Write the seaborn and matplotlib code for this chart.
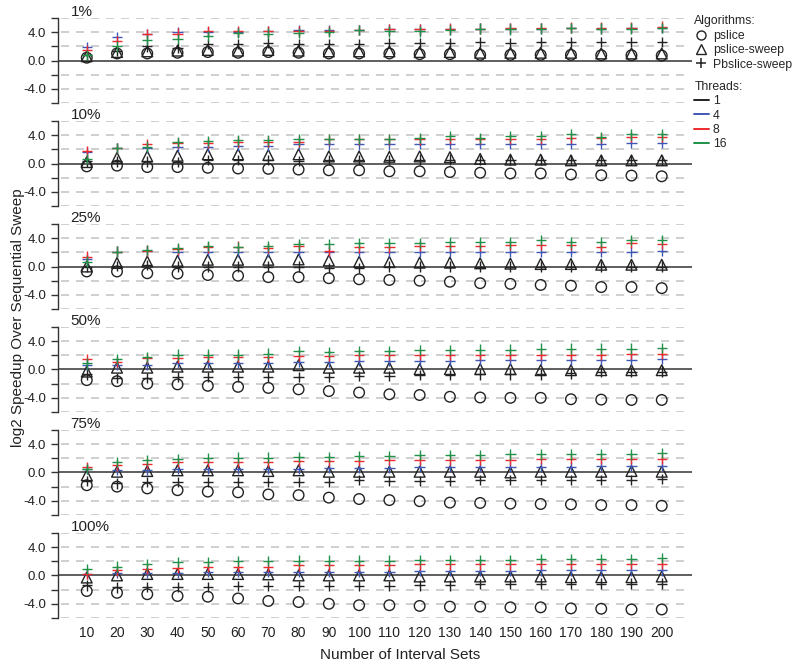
import numpy as np
import pandas as pd
import seaborn as sns
import matplotlib.pyplot as plt
from matplotlib.lines import Line2D

sns.set_style('white')
plt.rcParams['font.family'] = ['Liberation Sans', 'DejaVu Sans']
plt.rcParams['lines.scale_dashes'] = False

# x values and panels
interval_sets = list(range(10, 201, 10))
panels = ['1%', '10%', '25%', '50%', '75%', '100%']
threads = ['1', '4', '8', '16']
thread_colors = {'1': '#222222', '4': '#3f57b5', '8': '#ee2a2f', '16': '#1f9148'}

# pslice (circles), one row per panel
pslice = [
    [0.4, 1.0, 1.0, 1.1, 1.2, 1.1, 1.2, 1.1, 1.0, 1.0, 1.0, 0.9, 0.9, 0.8, 0.8, 0.8, 0.8, 0.75, 0.75, 0.7],
    [-0.4, -0.3, -0.5, -0.5, -0.6, -0.7, -0.75, -0.85, -0.95, -0.95, -1.1, -1.1, -1.2, -1.3, -1.4, -1.4, -1.55, -1.65, -1.7, -1.8],
    [-0.7, -0.7, -0.95, -1.0, -1.2, -1.3, -1.5, -1.5, -1.65, -1.8, -1.9, -2.0, -2.15, -2.35, -2.45, -2.6, -2.7, -2.9, -2.9, -3.05],
    [-1.5, -1.65, -2.0, -2.1, -2.3, -2.45, -2.6, -2.8, -3.05, -3.25, -3.5, -3.6, -3.85, -3.95, -4.0, -4.0, -4.2, -4.25, -4.3, -4.3],
    [-1.8, -2.0, -2.25, -2.5, -2.7, -2.8, -3.1, -3.2, -3.55, -3.75, -3.9, -4.05, -4.25, -4.3, -4.4, -4.45, -4.5, -4.6, -4.6, -4.7],
    [-2.2, -2.45, -2.65, -2.9, -3.0, -3.25, -3.6, -3.75, -4.0, -4.2, -4.2, -4.3, -4.4, -4.4, -4.5, -4.5, -4.65, -4.7, -4.8, -4.8],
]

# pslice-sweep (triangles)
pslice_sweep = [
    [0.6, 1.2, 1.3, 1.4, 1.5, 1.4, 1.5, 1.4, 1.3, 1.3, 1.3, 1.2, 1.2, 1.1, 1.1, 1.1, 1.1, 1.0, 1.0, 1.0],
    [0.2, 0.8, 1.0, 1.1, 1.3, 1.3, 1.2, 1.3, 1.0, 1.0, 0.95, 1.0, 0.9, 0.65, 0.55, 0.55, 0.45, 0.45, 0.45, 0.45],
    [0.0, 0.5, 0.7, 0.8, 0.95, 0.95, 0.95, 1.0, 0.85, 0.65, 0.65, 0.55, 0.55, 0.45, 0.4, 0.35, 0.35, 0.25, 0.25, 0.25],
    [-0.3, 0.25, 0.25, 0.4, 0.4, 0.4, 0.4, 0.6, 0.25, 0.25, 0.25, 0.05, 0.05, 0.05, 0.05, -0.1, -0.1, -0.1, -0.1, -0.1],
    [-0.4, 0.1, 0.2, 0.3, 0.3, 0.3, 0.2, 0.3, 0.1, 0.1, 0.1, 0.1, 0.1, 0.1, 0.0, 0.1, 0.1, 0.1, 0.2, 0.1],
    [-0.3, 0.0, 0.2, 0.2, 0.2, 0.2, 0.15, 0.0, 0.0, 0.0, 0.0, -0.15, -0.15, -0.15, -0.15, -0.15, -0.25, -0.25, -0.25, -0.15],
]

# Pbslice-sweep (plus) by thread count
pb_t1 = [
    [0.8, 1.3, 2.0, 1.8, 2.3, 2.3, 2.5, 2.3, 2.3, 2.3, 2.5, 2.5, 2.5, 2.6, 2.5, 2.6, 2.6, 2.6, 2.6, 2.6],
    [0.3, 0.3, 0.3, 0.2, 0.5, 0.5, 0.45, 0.35, 0.5, 0.5, 0.5, 0.55, 0.55, 0.5, 0.5, 0.5, 0.5, 0.5, 0.5, 0.5],
    [0.0, 0.1, 0.2, 0.0, 0.0, 0.0, 0.0, 0.0, -0.2, -0.2, 0.0, 0.0, 0.0, 0.0, 0.0, 0.0, 0.0, 0.0, 0.0, 0.0],
    [-0.7, -1.25, -1.2, -1.05, -1.05, -1.05, -1.05, -1.05, -1.05, -0.9, -0.9, -0.8, -0.8, -0.7, -0.7, -0.7, -0.55, -0.4, -0.4, -0.3],
    [-1.2, -1.55, -1.3, -1.3, -1.3, -1.3, -1.3, -1.3, -1.3, -1.1, -1.2, -1.2, -1.2, -1.1, -1.1, -1.1, -1.1, -1.1, -1.1, -0.95],
    [-1.4, -1.7, -1.6, -1.6, -1.6, -1.5, -1.5, -1.5, -1.5, -1.5, -1.5, -1.4, -1.4, -1.25, -1.25, -1.15, -1.15, -1.15, -1.15, -1.15],
]
pb_t4 = [
    [1.9, 3.3, 3.7, 4.0, 4.0, 4.05, 4.1, 4.3, 4.3, 4.3, 4.4, 4.4, 4.4, 4.5, 4.5, 4.5, 4.6, 4.5, 4.6, 4.6],
    [1.6, 2.2, 2.2, 2.4, 2.4, 2.5, 2.5, 2.7, 2.7, 2.7, 2.7, 2.8, 2.8, 2.8, 2.8, 2.8, 2.8, 2.8, 2.9, 2.9],
    [1.0, 2.1, 2.2, 2.0, 2.0, 2.0, 2.0, 2.1, 2.0, 2.0, 2.0, 2.1, 2.1, 2.1, 2.1, 2.1, 2.1, 2.1, 2.1, 2.2],
    [0.7, 0.7, 0.7, 0.95, 0.95, 0.95, 0.95, 1.1, 1.1, 1.2, 1.2, 1.2, 1.2, 1.3, 1.3, 1.3, 1.3, 1.4, 1.4, 1.45],
    [0.45, 0.3, 0.3, 0.45, 0.45, 0.55, 0.55, 0.55, 0.65, 0.65, 0.65, 0.8, 0.8, 0.8, 0.8, 0.8, 0.8, 0.95, 0.95, 0.95],
    [0.2, 0.3, 0.3, 0.35, 0.45, 0.45, 0.45, 0.45, 0.45, 0.45, 0.45, 0.6, 0.6, 0.6, 0.6, 0.7, 0.7, 0.7, 0.7, 0.7],
]
pb_t8 = [
    [1.5, 2.7, 3.7, 3.8, 4.1, 4.1, 4.1, 4.1, 4.2, 4.3, 4.4, 4.4, 4.5, 4.5, 4.6, 4.6, 4.65, 4.65, 4.65, 4.8],
    [1.7, 2.2, 2.7, 2.9, 2.9, 3.1, 3.1, 3.1, 3.4, 3.4, 3.4, 3.4, 3.5, 3.5, 3.5, 3.5, 3.6, 3.6, 3.75, 3.75],
    [1.4, 2.1, 2.25, 2.4, 2.7, 2.8, 2.6, 2.9, 2.25, 2.7, 2.7, 2.9, 2.9, 2.9, 3.05, 3.05, 3.05, 2.8, 3.3, 3.2],
    [1.45, 1.1, 1.65, 1.65, 1.8, 1.8, 1.8, 1.95, 1.95, 2.0, 2.0, 2.0, 2.0, 2.1, 2.1, 2.1, 2.1, 2.1, 2.2, 2.25],
    [0.8, 1.0, 1.25, 1.5, 1.5, 1.5, 1.5, 1.6, 1.6, 1.6, 1.75, 1.75, 1.75, 1.75, 1.75, 1.9, 1.9, 1.9, 1.9, 1.9],
    [0.2, 0.7, 0.95, 1.05, 1.25, 1.25, 1.25, 1.4, 1.4, 1.4, 1.4, 1.55, 1.55, 1.55, 1.55, 1.6, 1.6, 1.6, 1.6, 1.6],
]
pb_t16 = [
    [0.8, 2.0, 2.9, 3.0, 3.5, 3.9, 3.8, 3.9, 4.0, 4.3, 4.1, 4.1, 4.3, 4.5, 4.4, 4.5, 4.6, 4.5, 4.5, 4.6],
    [0.6, 2.2, 2.4, 3.0, 3.15, 3.3, 3.3, 3.4, 3.5, 3.5, 3.5, 3.6, 3.85, 3.6, 3.85, 3.85, 4.1, 3.75, 4.1, 4.1],
    [0.7, 2.1, 2.35, 2.6, 2.9, 2.7, 2.9, 3.2, 3.2, 3.3, 3.3, 3.3, 3.4, 3.4, 3.4, 3.7, 3.4, 3.5, 3.75, 3.75],
    [0.85, 1.45, 1.8, 2.1, 2.1, 2.1, 2.25, 2.6, 2.5, 2.6, 2.6, 2.7, 2.7, 2.8, 2.8, 2.95, 2.95, 2.95, 2.95, 3.05],
    [0.45, 1.5, 1.75, 1.9, 2.0, 2.1, 2.1, 2.2, 2.2, 2.35, 2.35, 2.45, 2.45, 2.45, 2.55, 2.55, 2.55, 2.55, 2.55, 2.7],
    [0.95, 1.25, 1.55, 1.85, 1.85, 2.0, 2.0, 2.1, 2.1, 2.1, 2.1, 2.2, 2.2, 2.2, 2.2, 2.35, 2.35, 2.35, 2.35, 2.45],
]
pb_by_thread = {'1': pb_t1, '4': pb_t4, '8': pb_t8, '16': pb_t16}

# Set up the figure
fig, axes = plt.subplots(6, 1, figsize=(8, 6.67), dpi=100, sharex=True)
fig.subplots_adjust(left=0.0725, right=0.865, top=0.973, bottom=0.0735, hspace=0.21)

for i, ax in enumerate(axes):
    # dashed grid lines and solid zero line
    ax.hlines([-6, -4, -2, 2, 4, 6], 1.5, 208, colors='#cccccc', linewidth=1.3,
              linestyles=(0, (5.8, 5.0)), zorder=0)
    ax.axhline(0, color='#333333', linewidth=1.1, zorder=1)

    sns.scatterplot(x=interval_sets, y=pslice[i], marker='o', s=58, facecolors='none',
                    edgecolor='#222222', linewidth=1.0, ax=ax, zorder=3)
    sns.scatterplot(x=interval_sets, y=pslice_sweep[i], marker='^', s=60, facecolors='none',
                    edgecolor='#222222', linewidth=1.0, ax=ax, zorder=3)

    df_pb = pd.concat([pd.DataFrame({'x': interval_sets, 'y': pb_by_thread[t][i], 'threads': t})
                       for t in threads])
    sns.scatterplot(data=df_pb, x='x', y='y', hue='threads', hue_order=threads,
                    palette=thread_colors, marker='+', s=55, linewidth=1.0,
                    legend=False, ax=ax, zorder=4)

    ax.set(xlabel='', ylabel='')
    ax.set_xlim(0.5, 210)
    ax.set_ylim(-6, 6)
    ax.set_yticks([-6, -4, -2, 0, 2, 4, 6])
    ax.set_yticklabels(['', '-4.0', '', '0.0', '', '4.0', ''])
    ax.set_xticks(interval_sets)
    ax.tick_params(axis='y', direction='out', length=5, width=1, color='#333333',
                   labelsize=9.5, labelcolor='#222222', left=True)
    ax.tick_params(axis='x', length=0, labelsize=10, labelcolor='#222222', pad=6)
    sns.despine(ax=ax, bottom=True)
    ax.spines['left'].set_color('#333333')
    ax.spines['left'].set_linewidth(1.0)
    ax.text(0.02, 0.985, panels[i], transform=ax.transAxes, ha='left', va='bottom',
            fontsize=11, color='#222222')

fig.text(0.5, 0.018, 'Number of Interval Sets', ha='center', va='center', fontsize=11, color='#222222')
fig.text(0.022, 0.523, 'log2 Speedup Over Sequential Sweep', rotation=90, ha='center', va='center',
         fontsize=11, color='#222222')

# Legends
alg_handles = [
    Line2D([], [], ls='none', marker='o', mfc='none', mec='#222222', ms=6.5, label='pslice'),
    Line2D([], [], ls='none', marker='^', mfc='none', mec='#222222', ms=6.5, label='pslice-sweep'),
    Line2D([], [], ls='none', marker='+', mec='#222222', ms=7.5, mew=1.1, label='Pbslice-sweep'),
]
fig.legend(handles=alg_handles, title='Algorithms:', loc='upper left',
           bbox_to_anchor=(0.868, 0.977), frameon=False, alignment='left',
           fontsize=8.8, title_fontsize=8.8, handlelength=1.0, handletextpad=0.5,
           labelspacing=0.2, borderpad=0, borderaxespad=0)
thr_handles = [Line2D([], [], color=thread_colors[t], lw=1.4, label=t) for t in threads]
fig.legend(handles=thr_handles, title='Threads:', loc='upper left',
           bbox_to_anchor=(0.868, 0.879), frameon=False, alignment='left',
           fontsize=8.8, title_fontsize=8.8, handlelength=1.2, handletextpad=0.3,
           labelspacing=0.2, borderpad=0, borderaxespad=0)

fig.savefig('out.png', dpi=100)
